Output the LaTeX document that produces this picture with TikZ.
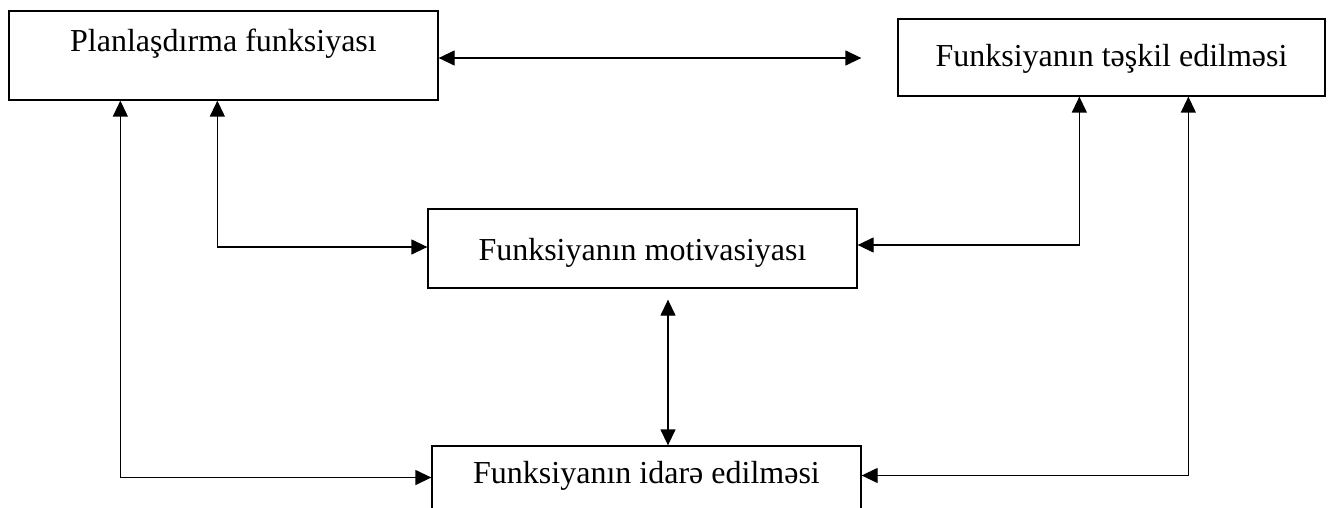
\documentclass[tikz,border=0pt]{standalone}
\usepackage{fontspec}
\setmainfont{Liberation Serif}
\usetikzlibrary{arrows.meta,calc}
\begin{document}
\begin{tikzpicture}[x=1pt,y=-1pt,
  fbox/.style={draw=black,line width=1.3pt,inner sep=0pt,anchor=base,
    font=\fontsize{32}{38}\selectfont},
  link/.style={line width=1.3pt,{Triangle[length=16pt,width=15pt]}-{Triangle[length=16pt,width=15pt]}}]
\useasboundingbox (0,0) rectangle (1334,508);
\clip (0,0) rectangle (1334,508);
\fill[white] (0,0) rectangle (1334,508);
\node[fbox,minimum width=429pt,text height=41pt,text depth=48pt] (A) at (223.5,52) {Planlaşdırma funksiyası};
\node[fbox,minimum width=427pt,text height=48pt,text depth=29pt] (B) at (1111.5,67) {Funksiyanın təşkil edilməsi};
\node[fbox,minimum width=429pt,text height=51pt,text depth=28pt] (C) at (642.5,260) {Funksiyanın motivasiyası};
\node[fbox,minimum width=429pt,text height=37pt,text depth=26pt] (D) at (646.5,483) {Funksiyanın idarə edilməsi};
\coordinate (abend) at ($(B.west)+(-36,0.5)$);
\coordinate (a1) at ($(A.south west)+(112,0)$);
\coordinate (a2) at ($(A.south west)+(209,0)$);
\coordinate (b1) at ($(B.south west)+(182,0)$);
\coordinate (b2) at ($(B.south west)+(291,0)$);
\coordinate (cd) at ($(C.south)+(25.5,11)$);
\draw[link] (A.east |- abend) -- (abend);
\draw[link] (a1) |- (D.west);
\draw[link] (a2) |- ($(C.west)+(0,-1.5)$);
\draw[link] (b1) |- ($(C.east)+(0,-3.5)$);
\draw[link] (b2) |- ($(D.east)+(0,-2)$);
\draw[link] (cd) -- (cd |- D.north);
\end{tikzpicture}
\end{document}
